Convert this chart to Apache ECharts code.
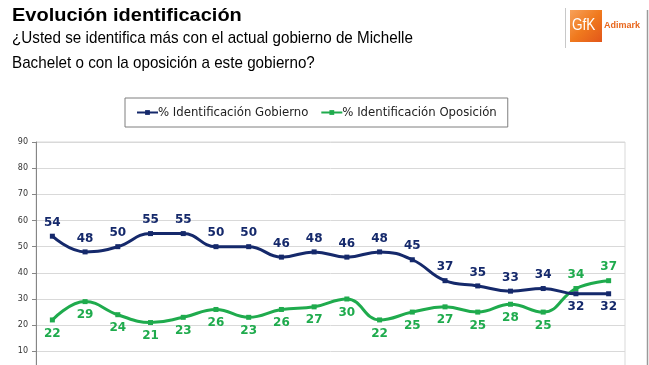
<!DOCTYPE html>
<html>
<head>
<meta charset="utf-8">
<script src="https://cdn.jsdelivr.net/npm/echarts@6/dist/echarts.min.js"></script>
<style>
html,body{margin:0;padding:0;background:#fff;}
#chart{width:649px;height:365px;}
</style>
</head>
<body>
<div id="chart"></div>
<script>
const categories = ['1','2','3','4','5','6','7','8','9','10','11','12','13','14','15','16','17','18'];
const gobierno = [54,48,50,55,55,50,50,46,48,46,48,45,37,35,33,34,32,32];
const oposicion = [22,29,24,21,23,26,23,26,27,30,22,25,27,25,28,25,34,37];
const yTicks = [0,10,20,30,40,50,60,70,80,90];
const seriesNames = ['% Identificación Gobierno','% Identificación Oposición'];
const titleText = 'Evolución identificación';
const subLines = ['¿Usted se identifica más con el actual gobierno de Michelle','Bachelet o con la oposición a este gobierno?'];

const NAVY = '#15296b';
const GREEN = '#1fab4d';

const chart = echarts.init(document.getElementById('chart'), null, {renderer:'canvas'});

function labelPos(arr, above){
  return arr.map((v,i)=>{
    let up = above;
    if (i >= 16) up = !above;
    return {value:v, label:{position: up ? 'top' : 'bottom'}};
  });
}

chart.setOption({
  animation:false,
  legend:{
    left:125, top:98,
    padding:[8,11,8,11],
    itemGap:12, itemWidth:21, itemHeight:6,
    borderColor:'#7f7f7f', borderWidth:1,
    textStyle:{fontFamily:'DejaVu Sans Condensed', fontSize:13, color:'#222', padding:[0,0,0,-5]},
    data:seriesNames
  },
  grid:{left:36, top:142, width:589, height:235.5, show:true, borderColor:'#d9d9d9', borderWidth:1, outerBoundsMode:'none'},
  xAxis:{
    type:'category', data:categories, boundaryGap:true,
    axisLabel:{show:false}, axisTick:{show:false},
    axisLine:{lineStyle:{color:'#868686'}}
  },
  yAxis:{
    type:'value', min:yTicks[0], max:yTicks[yTicks.length-1], interval:10,
    axisLine:{show:true, lineStyle:{color:'#868686', width:1}},
    axisTick:{show:true, length:4, lineStyle:{color:'#868686'}},
    axisLabel:{fontFamily:'DejaVu Sans', fontSize:8, color:'#333', margin:8},
    splitLine:{lineStyle:{color:'#d9d9d9', width:1}}
  },
  series:[
    {
      name:seriesNames[0], type:'line', smooth:0.45,
      data:labelPos(gobierno, true),
      symbol:'rect', symbolSize:5,
      lineStyle:{color:NAVY, width:3},
      itemStyle:{color:NAVY},
      label:{show:true, fontFamily:'DejaVu Sans', fontWeight:'bold', fontSize:12, color:NAVY, distance:5},
      z:3
    },
    {
      name:seriesNames[1], type:'line', smooth:0.45,
      data:labelPos(oposicion, false),
      symbol:'rect', symbolSize:5,
      lineStyle:{color:GREEN, width:3},
      itemStyle:{color:GREEN},
      label:{show:true, fontFamily:'DejaVu Sans', fontWeight:'bold', fontSize:12, color:GREEN, distance:5},
      z:2
    }
  ],
  graphic:[
    {type:'text', x:12, y:7, scaleX:1.11, style:{text:titleText, fill:'#000', font:'bold 18px "Liberation Sans"'}},
    {type:'text', x:12, y:30, scaleX:0.895, style:{text:subLines[0], fill:'#000', font:'17px "Liberation Sans"'}},
    {type:'text', x:12, y:54.5, scaleX:0.895, style:{text:subLines[1], fill:'#000', font:'17px "Liberation Sans"'}},
    {type:'line', shape:{x1:565.5,y1:8,x2:565.5,y2:48}, style:{stroke:'#c8c8c8', lineWidth:1}},
    {type:'rect', shape:{x:570,y:10,width:32,height:32},
      style:{fill:new echarts.graphic.LinearGradient(0,0,1,1,[{offset:0,color:'#f7a15a'},{offset:0.5,color:'#f07a1e'},{offset:1,color:'#e2561a'}])}},
    {type:'text', x:572, y:18, scaleX:0.85, style:{text:'GfK', fill:'#fff', font:'16px "Liberation Sans"'}},
    {type:'text', x:604, y:21, style:{text:'Adimark', fill:'#e8661c', font:'bold 9px "Liberation Sans"'}},
    {type:'line', shape:{x1:647.5,y1:10,x2:647.5,y2:365}, style:{stroke:'#9a9a9a', lineWidth:1.5}}
  ]
});
</script>
</body>
</html>
